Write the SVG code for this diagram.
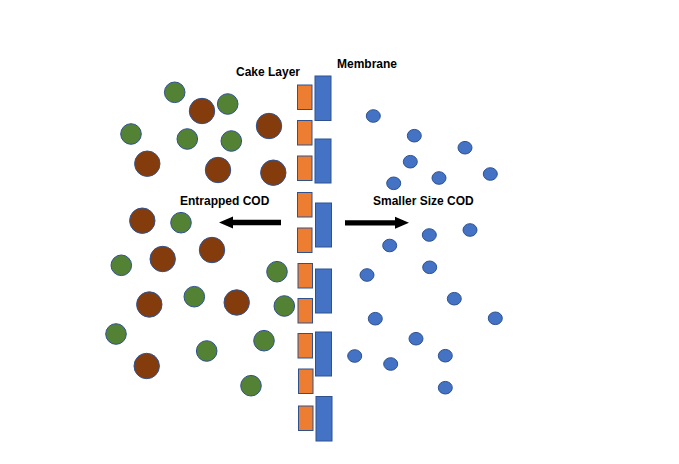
<svg xmlns="http://www.w3.org/2000/svg" width="679" height="464" viewBox="0 0 679 464">
<style>
.g{fill:#548235;stroke:#2F528F;stroke-width:1}
.b{fill:#843C0C;stroke:#2F528F;stroke-width:1}
.s{fill:#4472C4;stroke:#2F528F;stroke-width:1}
.o{fill:#ED7D31;stroke:#2F528F;stroke-width:1}
.m{fill:#4472C4;stroke:#2F528F;stroke-width:1}
.t{font-family:"Liberation Sans",Arial,sans-serif;font-weight:bold;font-size:12px;fill:#000}
</style>
<rect width="679" height="464" fill="#fff"/>
<g id="labels">
<text class="t" x="236" y="76">Cake Layer</text>
<text class="t" x="337" y="68">Membrane</text>
<text class="t" x="180" y="205">Entrapped COD</text>
<text class="t" x="373" y="205">Smaller Size COD</text>
</g>
<g id="cake-layer">
<rect class="o" x="297.5" y="85" width="14.5" height="24.5"/>
<rect class="o" x="297.5" y="120.5" width="14.5" height="24.5"/>
<rect class="o" x="297.5" y="156" width="14.5" height="24.5"/>
<rect class="o" x="297.5" y="192.5" width="14.5" height="24.5"/>
<rect class="o" x="297.5" y="228" width="14.5" height="24.5"/>
<rect class="o" x="298" y="263.5" width="14.5" height="24.5"/>
<rect class="o" x="298" y="298.5" width="14.5" height="24.5"/>
<rect class="o" x="298" y="333.5" width="14.5" height="24.5"/>
<rect class="o" x="298.5" y="369" width="14.5" height="24.5"/>
<rect class="o" x="298.5" y="406" width="14.5" height="24.5"/>
</g>
<g id="membrane">
<rect class="m" x="315" y="76" width="16" height="44.5"/>
<rect class="m" x="315" y="139" width="16" height="44"/>
<rect class="m" x="315.5" y="203" width="16" height="44"/>
<rect class="m" x="315.5" y="269" width="16" height="44"/>
<rect class="m" x="315.5" y="332" width="16" height="44"/>
<rect class="m" x="316" y="396.5" width="16" height="44.5"/>
</g>
<g id="entrapped-cod">
<circle class="g" cx="174.7" cy="92.3" r="10.3"/>
<circle class="b" cx="202" cy="111" r="12.7"/>
<circle class="g" cx="227.7" cy="104" r="10.3"/>
<circle class="b" cx="269" cy="126" r="12.7"/>
<circle class="g" cx="131" cy="134" r="10.3"/>
<circle class="g" cx="187.3" cy="139" r="10.3"/>
<circle class="g" cx="231.3" cy="141" r="10.3"/>
<circle class="b" cx="147.3" cy="163.7" r="12.7"/>
<circle class="b" cx="218" cy="170" r="12.7"/>
<circle class="b" cx="273.3" cy="172.7" r="12.7"/>
<circle class="b" cx="142.3" cy="220.7" r="12.7"/>
<circle class="g" cx="181" cy="222.7" r="10.3"/>
<circle class="b" cx="212" cy="250" r="12.7"/>
<circle class="b" cx="162.7" cy="259" r="12.7"/>
<circle class="g" cx="121.3" cy="265.3" r="10.3"/>
<circle class="g" cx="277" cy="271.7" r="10.3"/>
<circle class="b" cx="149.3" cy="304.5" r="12.7"/>
<circle class="g" cx="194.3" cy="296.7" r="10.3"/>
<circle class="b" cx="236.7" cy="302.5" r="12.7"/>
<circle class="g" cx="284.3" cy="306" r="10.3"/>
<circle class="g" cx="116" cy="334" r="10.3"/>
<circle class="g" cx="264" cy="340.7" r="10.3"/>
<circle class="g" cx="206.7" cy="351" r="10.3"/>
<circle class="b" cx="146.7" cy="366" r="12.7"/>
<circle class="g" cx="251" cy="385.7" r="10.3"/>
</g>
<g id="smaller-size-cod">
<ellipse class="s" cx="373.3" cy="116" rx="7" ry="6.3"/>
<ellipse class="s" cx="414.3" cy="135.7" rx="7" ry="6.3"/>
<ellipse class="s" cx="465" cy="147.7" rx="7" ry="6.3"/>
<ellipse class="s" cx="410.3" cy="161.7" rx="7" ry="6.3"/>
<ellipse class="s" cx="490.3" cy="174" rx="7" ry="6.3"/>
<ellipse class="s" cx="439" cy="178" rx="7" ry="6.3"/>
<ellipse class="s" cx="393.7" cy="183.3" rx="7" ry="6.3"/>
<ellipse class="s" cx="429.3" cy="235" rx="7" ry="6.3"/>
<ellipse class="s" cx="470" cy="230" rx="7" ry="6.3"/>
<ellipse class="s" cx="389.7" cy="245.5" rx="7" ry="6.3"/>
<ellipse class="s" cx="429.7" cy="267.3" rx="7" ry="6.3"/>
<ellipse class="s" cx="367" cy="275" rx="7" ry="6.3"/>
<ellipse class="s" cx="454.3" cy="298.7" rx="7" ry="6.3"/>
<ellipse class="s" cx="375.3" cy="318.7" rx="7" ry="6.3"/>
<ellipse class="s" cx="495.3" cy="318.3" rx="7" ry="6.3"/>
<ellipse class="s" cx="416" cy="338.7" rx="7" ry="6.3"/>
<ellipse class="s" cx="354.7" cy="356" rx="7" ry="6.3"/>
<ellipse class="s" cx="390.7" cy="364" rx="7" ry="6.3"/>
<ellipse class="s" cx="445.3" cy="355.7" rx="7" ry="6.3"/>
<ellipse class="s" cx="445.3" cy="387.7" rx="7" ry="6.3"/>
</g>
<g id="connectors">
<polygon fill="#000" points="281,219.8 233,219.8 233,216.5 219,222.5 233,228.5 233,225.2 281,225.2"/>
<polygon fill="#000" points="345,220.2 395,220.2 395,216.8 409,222.8 395,228.8 395,225.4 345,225.4"/>
</g>
</svg>
